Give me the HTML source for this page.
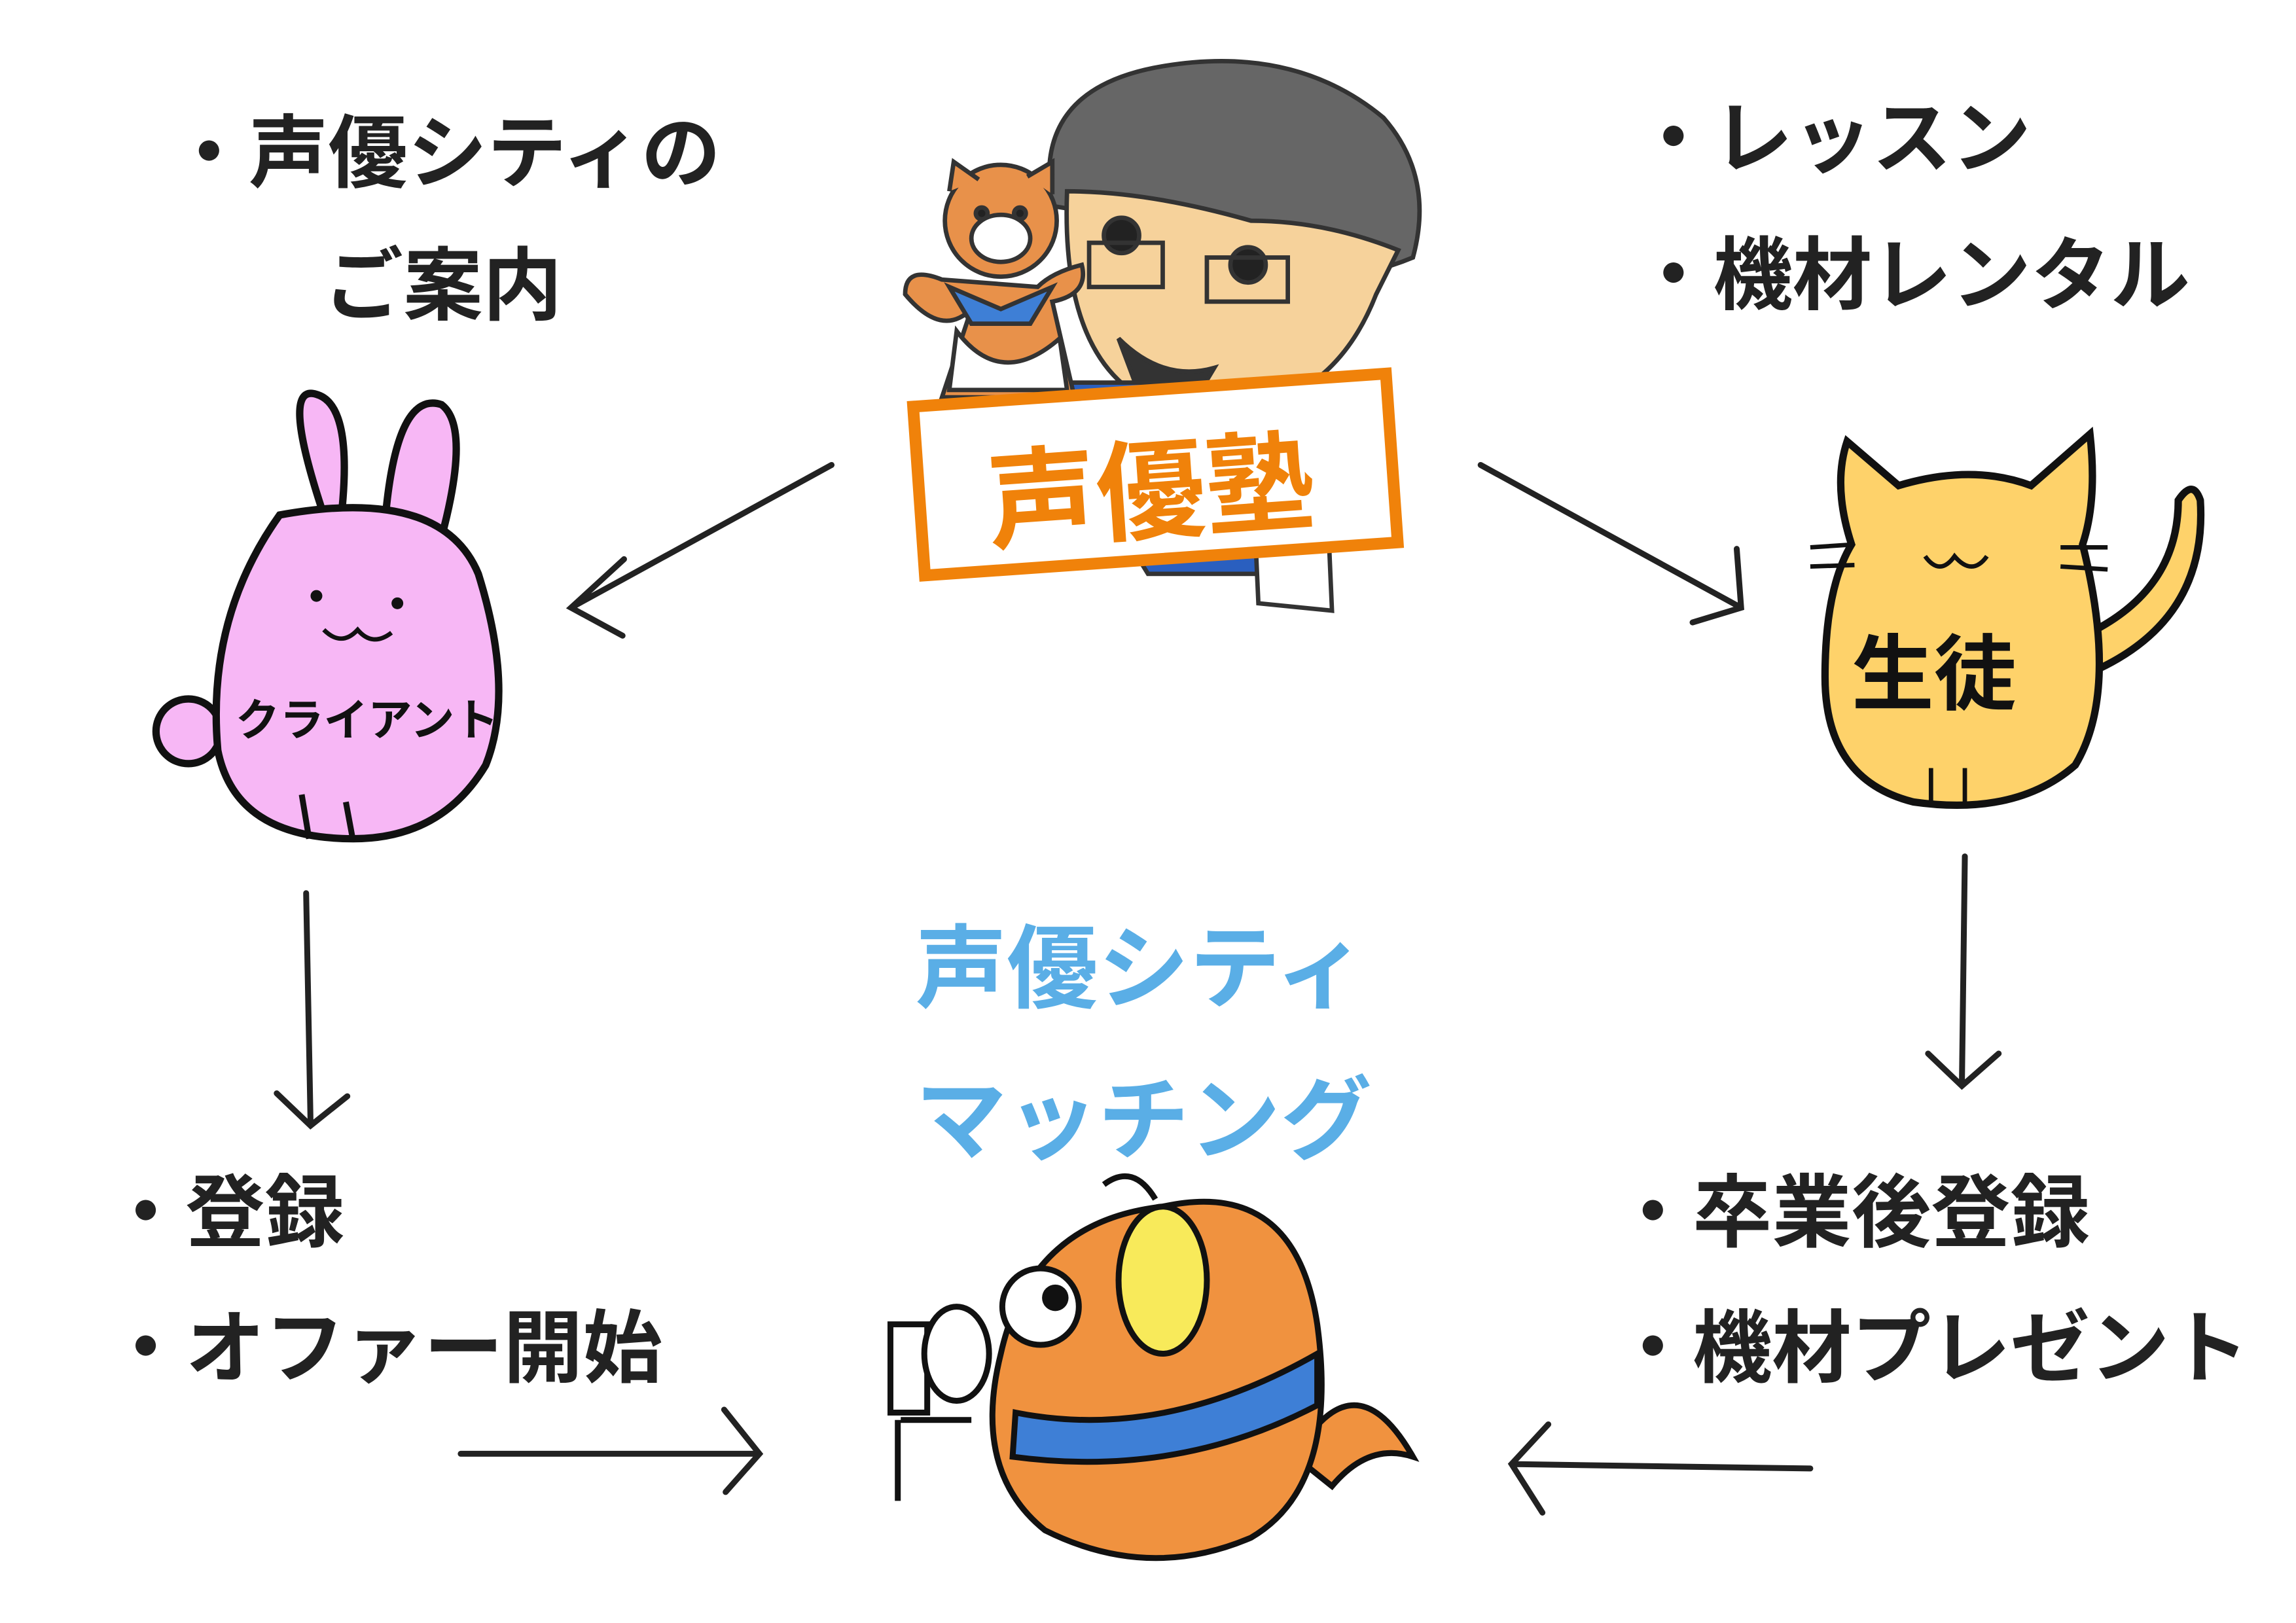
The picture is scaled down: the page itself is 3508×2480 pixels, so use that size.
<!DOCTYPE html>
<html><head><meta charset="utf-8"><style>
html,body{margin:0;padding:0;background:#fff}
svg{display:block}
text{font-family:"Liberation Sans","Noto Sans CJK JP",sans-serif;font-weight:bold}
</style></head><body>
<svg width="3508" height="2480" viewBox="0 0 1560 1103" preserveAspectRatio="none" xmlns="http://www.w3.org/2000/svg">
<rect width="1560" height="1103" fill="#fff"/>
<g fill="#222" font-size="54">
<text x="115" y="123">・声優シティの</text>
<text x="220" y="213">ご案内</text>
<text x="1110" y="113">・レッスン</text>
<text x="1110" y="206">・機材レンタル</text>
<text x="72" y="843">・登録</text>
<text x="72" y="935">・オファー開始</text>
<text x="1096" y="843">・卒業後登録</text>
<text x="1096" y="935">・機材プレゼント</text>
</g>
<g fill="#5aaee6" font-size="62">
<text x="622" y="680">声優シティ</text>
<text x="622" y="783">マッチング</text>
</g>
<g stroke="#222" stroke-width="4" fill="none" stroke-linecap="round">
<path d="M565 316 L388 413 M424 380 L388 413 L423 432"/>
<path d="M1006 316 L1183 413 M1180 373 L1183 413 L1150 423"/>
<path d="M208 607 L211 763 M188 743 L211 765 L236 745"/>
<path d="M1335 582 L1333 737 M1310 716 L1333 738 L1358 716"/>
<path d="M313 988 L516 988 M492 958 L516 988 L493 1014"/>
<path d="M1230 998 L1027 995 M1052 968 L1027 995 L1048 1028"/>
</g>
<g stroke="#333" stroke-width="3">
<path d="M715 140 Q700 60 790 45 Q880 30 940 80 Q975 120 960 175 Q900 200 850 175 Q780 150 715 140Z" fill="#666"/>
<path d="M725 130 Q720 260 800 280 Q900 290 935 200 L950 170 Q900 150 850 150 Q780 130 725 130Z" fill="#f6d29b"/>
<circle cx="762" cy="160" r="12" fill="#222"/><circle cx="848" cy="180" r="12" fill="#222"/>
<path d="M740 165 h50 v30 h-50z M820 175 h55 v30 h-55z" fill="none"/>
<path d="M760 230 Q790 260 825 250 L810 275 L775 270Z" fill="#333"/>
<path d="M700 260 L830 260 L860 390 L780 390Z" fill="#2a5fbf"/>
<path d="M850 300 L900 300 L905 415 L855 410Z" fill="#fff"/>
<circle cx="680" cy="150" r="38" fill="#e8914a"/>
<path d="M645 130 L648 110 L665 122 M698 120 L715 110 L715 132" fill="#e8914a"/>
<ellipse cx="680" cy="162" rx="20" ry="16" fill="#fff"/>
<circle cx="667" cy="145" r="4" fill="#222"/><circle cx="693" cy="145" r="4" fill="#222"/>
<path d="M640 190 Q615 180 615 200 Q640 230 660 210 L640 270 L730 270 L715 205 Q740 200 735 180 Q715 185 705 195Z" fill="#e8914a"/>
<path d="M645 195 L680 210 L715 195 L700 220 L660 220Z" fill="#3e7fd6"/>
<path d="M650 225 Q680 265 720 230 L725 265 L645 265Z" fill="#fff"/>
</g>
<g transform="rotate(-4 785 322)">
<rect x="624" y="265" width="322" height="115" fill="#fff" stroke="#f0820a" stroke-width="8"/>
<text x="670" y="360" font-size="74" fill="#f0820a">声優塾</text>
</g>
<g stroke="#111" stroke-width="5" fill="#f7b7f5">
<circle cx="128" cy="497" r="22"/>
<path d="M220 350 Q190 260 215 268 Q240 275 232 350 M262 350 Q270 265 300 275 Q320 290 300 365"/>
<path d="M190 350 Q300 330 325 390 Q350 470 330 520 Q300 570 240 570 Q160 570 148 510 Q140 420 190 350Z"/>
</g>
<path d="M205 540 L210 570 M235 545 L240 572" stroke="#111" stroke-width="4"/>
<g fill="#111"><circle cx="215" cy="405" r="4"/><circle cx="270" cy="410" r="4"/></g>
<path d="M220 428 Q232 440 243 428 Q253 440 266 430" stroke="#111" stroke-width="3" fill="none"/>
<text x="160" y="500" font-size="30" fill="#111" font-weight="normal">クライアント</text>
<g stroke="#111" stroke-width="5" fill="#fed26a">
<path d="M1425 455 Q1500 420 1495 340 Q1490 325 1480 340 Q1480 400 1420 430Z"/>
<path d="M1255 300 L1290 330 Q1340 315 1380 330 L1420 295 Q1425 340 1415 370 Q1440 470 1410 520 Q1370 555 1300 545 Q1240 530 1240 460 Q1240 400 1258 370 Q1245 330 1255 300Z"/>
</g>
<path d="M1230 372 L1260 370 M1230 385 L1260 384 M1400 372 L1432 372 M1400 385 L1432 387 M1312 522 L1312 545 M1335 522 L1335 545 M1308 378 Q1318 392 1328 378 Q1340 392 1350 378" stroke="#111" stroke-width="3" fill="none"/>
<text x="1258" y="478" font-size="56" fill="#111" font-weight="normal">生徒</text>
<g stroke="#111" stroke-width="4">
<path d="M605 900 h25 v60 h-25z M610 965 L610 1020 M612 965 L660 965" fill="#fff"/>
<ellipse cx="650" cy="920" rx="22" ry="32" fill="#fff"/>
<path d="M880 990 Q920 920 960 990 Q930 980 905 1010Z" fill="#f0923f"/>
<path d="M790 820 Q880 800 895 900 Q910 1010 850 1045 Q780 1075 710 1040 Q660 1000 680 920 Q700 830 790 820Z" fill="#f0923f"/>
<path d="M690 960 Q790 980 895 920 L895 955 Q800 1005 688 990Z" fill="#3e7fd6"/>
<path d="M750 805 Q770 790 785 815" fill="none"/>
<ellipse cx="790" cy="870" rx="30" ry="50" fill="#f8ea5a"/>
<circle cx="707" cy="888" r="26" fill="#fff"/>
</g>
<circle cx="717" cy="882" r="9" fill="#111"/>
</svg>
</body></html>
